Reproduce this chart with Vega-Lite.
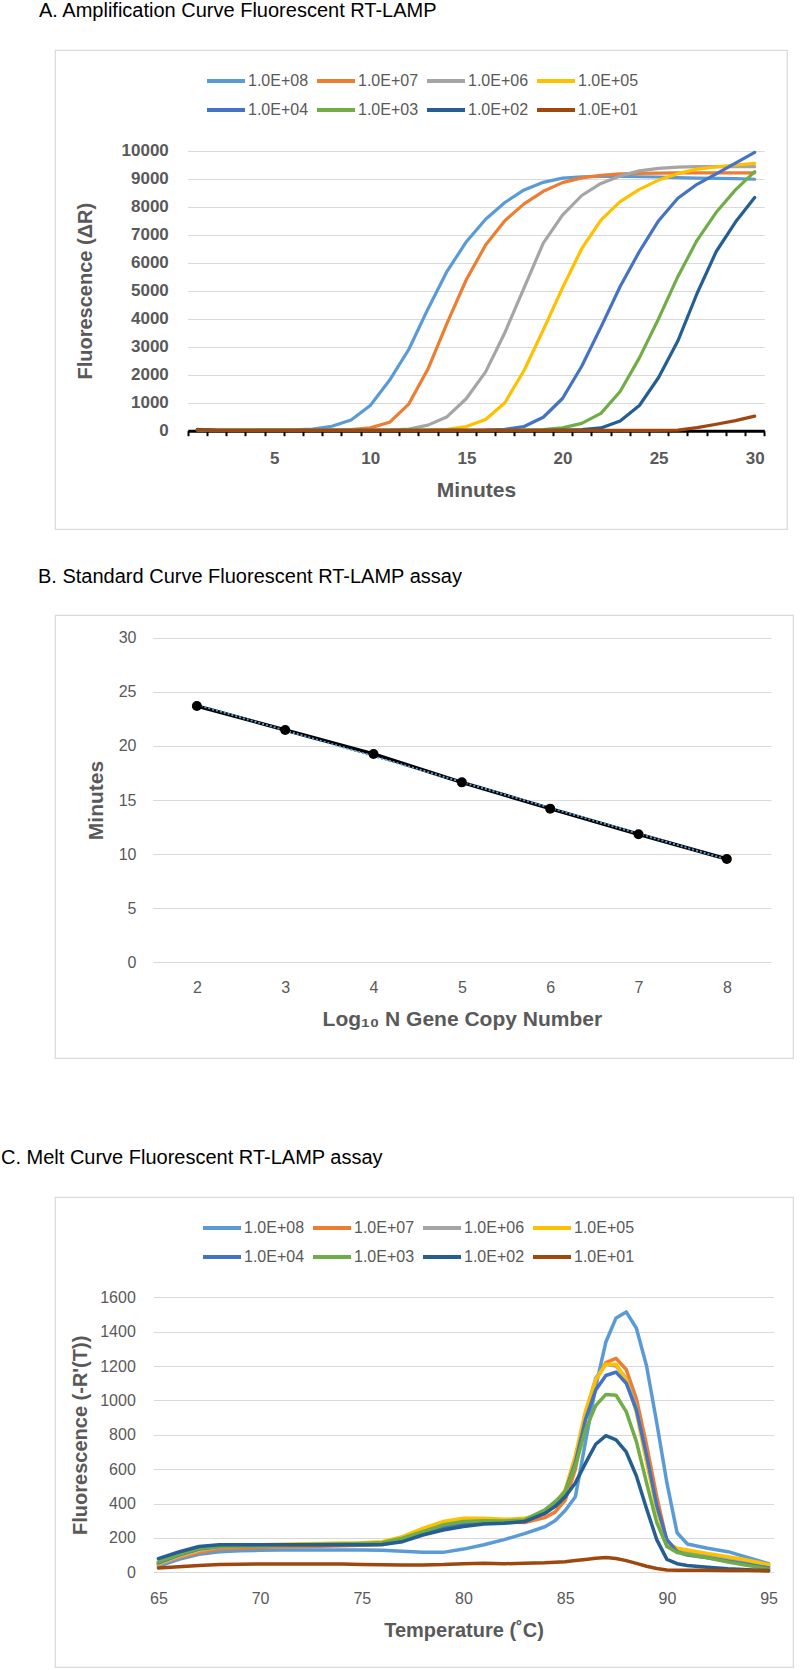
{
"$schema": "https://vega.github.io/schema/vega-lite/v6.json",
"background": "white",
"padding": 0,
"autosize": {"type": "pad"},
"datasets": {
"amp": [
{"x":1,"s":"1.0E+08","y":50},{"x":2,"s":"1.0E+08","y":20},{"x":3,"s":"1.0E+08","y":15},{"x":4,"s":"1.0E+08","y":15},{"x":5,"s":"1.0E+08","y":20},{"x":6,"s":"1.0E+08","y":30},{"x":7,"s":"1.0E+08","y":60},{"x":8,"s":"1.0E+08","y":160},{"x":9,"s":"1.0E+08","y":380},{"x":10,"s":"1.0E+08","y":900},{"x":11,"s":"1.0E+08","y":1800},{"x":12,"s":"1.0E+08","y":2900},{"x":13,"s":"1.0E+08","y":4350},{"x":14,"s":"1.0E+08","y":5700},{"x":15,"s":"1.0E+08","y":6750},{"x":16,"s":"1.0E+08","y":7550},{"x":17,"s":"1.0E+08","y":8150},{"x":18,"s":"1.0E+08","y":8600},{"x":19,"s":"1.0E+08","y":8870},{"x":20,"s":"1.0E+08","y":9020},{"x":21,"s":"1.0E+08","y":9070},{"x":22,"s":"1.0E+08","y":9080},{"x":23,"s":"1.0E+08","y":9080},{"x":24,"s":"1.0E+08","y":9070},{"x":25,"s":"1.0E+08","y":9060},{"x":26,"s":"1.0E+08","y":9040},{"x":27,"s":"1.0E+08","y":9020},{"x":28,"s":"1.0E+08","y":9010},{"x":29,"s":"1.0E+08","y":9000},{"x":30,"s":"1.0E+08","y":8980},
{"x":1,"s":"1.0E+07","y":40},{"x":2,"s":"1.0E+07","y":15},{"x":3,"s":"1.0E+07","y":10},{"x":4,"s":"1.0E+07","y":10},{"x":5,"s":"1.0E+07","y":10},{"x":6,"s":"1.0E+07","y":10},{"x":7,"s":"1.0E+07","y":15},{"x":8,"s":"1.0E+07","y":20},{"x":9,"s":"1.0E+07","y":40},{"x":10,"s":"1.0E+07","y":100},{"x":11,"s":"1.0E+07","y":300},{"x":12,"s":"1.0E+07","y":950},{"x":13,"s":"1.0E+07","y":2200},{"x":14,"s":"1.0E+07","y":3850},{"x":15,"s":"1.0E+07","y":5400},{"x":16,"s":"1.0E+07","y":6630},{"x":17,"s":"1.0E+07","y":7500},{"x":18,"s":"1.0E+07","y":8100},{"x":19,"s":"1.0E+07","y":8550},{"x":20,"s":"1.0E+07","y":8860},{"x":21,"s":"1.0E+07","y":9030},{"x":22,"s":"1.0E+07","y":9120},{"x":23,"s":"1.0E+07","y":9170},{"x":24,"s":"1.0E+07","y":9190},{"x":25,"s":"1.0E+07","y":9200},{"x":26,"s":"1.0E+07","y":9210},{"x":27,"s":"1.0E+07","y":9210},{"x":28,"s":"1.0E+07","y":9210},{"x":29,"s":"1.0E+07","y":9210},{"x":30,"s":"1.0E+07","y":9210},
{"x":1,"s":"1.0E+06","y":40},{"x":2,"s":"1.0E+06","y":15},{"x":3,"s":"1.0E+06","y":10},{"x":4,"s":"1.0E+06","y":10},{"x":5,"s":"1.0E+06","y":10},{"x":6,"s":"1.0E+06","y":10},{"x":7,"s":"1.0E+06","y":10},{"x":8,"s":"1.0E+06","y":10},{"x":9,"s":"1.0E+06","y":10},{"x":10,"s":"1.0E+06","y":15},{"x":11,"s":"1.0E+06","y":20},{"x":12,"s":"1.0E+06","y":60},{"x":13,"s":"1.0E+06","y":200},{"x":14,"s":"1.0E+06","y":500},{"x":15,"s":"1.0E+06","y":1150},{"x":16,"s":"1.0E+06","y":2100},{"x":17,"s":"1.0E+06","y":3500},{"x":18,"s":"1.0E+06","y":5100},{"x":19,"s":"1.0E+06","y":6700},{"x":20,"s":"1.0E+06","y":7700},{"x":21,"s":"1.0E+06","y":8400},{"x":22,"s":"1.0E+06","y":8830},{"x":23,"s":"1.0E+06","y":9100},{"x":24,"s":"1.0E+06","y":9280},{"x":25,"s":"1.0E+06","y":9370},{"x":26,"s":"1.0E+06","y":9410},{"x":27,"s":"1.0E+06","y":9430},{"x":28,"s":"1.0E+06","y":9430},{"x":29,"s":"1.0E+06","y":9430},{"x":30,"s":"1.0E+06","y":9430},
{"x":1,"s":"1.0E+05","y":40},{"x":2,"s":"1.0E+05","y":15},{"x":3,"s":"1.0E+05","y":10},{"x":4,"s":"1.0E+05","y":10},{"x":5,"s":"1.0E+05","y":10},{"x":6,"s":"1.0E+05","y":10},{"x":7,"s":"1.0E+05","y":10},{"x":8,"s":"1.0E+05","y":10},{"x":9,"s":"1.0E+05","y":10},{"x":10,"s":"1.0E+05","y":10},{"x":11,"s":"1.0E+05","y":10},{"x":12,"s":"1.0E+05","y":10},{"x":13,"s":"1.0E+05","y":20},{"x":14,"s":"1.0E+05","y":50},{"x":15,"s":"1.0E+05","y":150},{"x":16,"s":"1.0E+05","y":400},{"x":17,"s":"1.0E+05","y":1000},{"x":18,"s":"1.0E+05","y":2150},{"x":19,"s":"1.0E+05","y":3600},{"x":20,"s":"1.0E+05","y":5100},{"x":21,"s":"1.0E+05","y":6500},{"x":22,"s":"1.0E+05","y":7520},{"x":23,"s":"1.0E+05","y":8180},{"x":24,"s":"1.0E+05","y":8620},{"x":25,"s":"1.0E+05","y":8950},{"x":26,"s":"1.0E+05","y":9180},{"x":27,"s":"1.0E+05","y":9340},{"x":28,"s":"1.0E+05","y":9420},{"x":29,"s":"1.0E+05","y":9490},{"x":30,"s":"1.0E+05","y":9550},
{"x":1,"s":"1.0E+04","y":40},{"x":2,"s":"1.0E+04","y":15},{"x":3,"s":"1.0E+04","y":10},{"x":4,"s":"1.0E+04","y":10},{"x":5,"s":"1.0E+04","y":10},{"x":6,"s":"1.0E+04","y":10},{"x":7,"s":"1.0E+04","y":10},{"x":8,"s":"1.0E+04","y":10},{"x":9,"s":"1.0E+04","y":10},{"x":10,"s":"1.0E+04","y":10},{"x":11,"s":"1.0E+04","y":10},{"x":12,"s":"1.0E+04","y":10},{"x":13,"s":"1.0E+04","y":10},{"x":14,"s":"1.0E+04","y":10},{"x":15,"s":"1.0E+04","y":10},{"x":16,"s":"1.0E+04","y":20},{"x":17,"s":"1.0E+04","y":50},{"x":18,"s":"1.0E+04","y":150},{"x":19,"s":"1.0E+04","y":480},{"x":20,"s":"1.0E+04","y":1150},{"x":21,"s":"1.0E+04","y":2300},{"x":22,"s":"1.0E+04","y":3700},{"x":23,"s":"1.0E+04","y":5150},{"x":24,"s":"1.0E+04","y":6400},{"x":25,"s":"1.0E+04","y":7500},{"x":26,"s":"1.0E+04","y":8300},{"x":27,"s":"1.0E+04","y":8800},{"x":28,"s":"1.0E+04","y":9170},{"x":29,"s":"1.0E+04","y":9560},{"x":30,"s":"1.0E+04","y":9940},
{"x":1,"s":"1.0E+03","y":40},{"x":2,"s":"1.0E+03","y":15},{"x":3,"s":"1.0E+03","y":10},{"x":4,"s":"1.0E+03","y":10},{"x":5,"s":"1.0E+03","y":10},{"x":6,"s":"1.0E+03","y":10},{"x":7,"s":"1.0E+03","y":10},{"x":8,"s":"1.0E+03","y":10},{"x":9,"s":"1.0E+03","y":10},{"x":10,"s":"1.0E+03","y":10},{"x":11,"s":"1.0E+03","y":10},{"x":12,"s":"1.0E+03","y":10},{"x":13,"s":"1.0E+03","y":10},{"x":14,"s":"1.0E+03","y":10},{"x":15,"s":"1.0E+03","y":10},{"x":16,"s":"1.0E+03","y":10},{"x":17,"s":"1.0E+03","y":10},{"x":18,"s":"1.0E+03","y":20},{"x":19,"s":"1.0E+03","y":40},{"x":20,"s":"1.0E+03","y":100},{"x":21,"s":"1.0E+03","y":260},{"x":22,"s":"1.0E+03","y":620},{"x":23,"s":"1.0E+03","y":1400},{"x":24,"s":"1.0E+03","y":2600},{"x":25,"s":"1.0E+03","y":4000},{"x":26,"s":"1.0E+03","y":5500},{"x":27,"s":"1.0E+03","y":6800},{"x":28,"s":"1.0E+03","y":7800},{"x":29,"s":"1.0E+03","y":8600},{"x":30,"s":"1.0E+03","y":9250},
{"x":1,"s":"1.0E+02","y":40},{"x":2,"s":"1.0E+02","y":15},{"x":3,"s":"1.0E+02","y":10},{"x":4,"s":"1.0E+02","y":10},{"x":5,"s":"1.0E+02","y":10},{"x":6,"s":"1.0E+02","y":10},{"x":7,"s":"1.0E+02","y":10},{"x":8,"s":"1.0E+02","y":10},{"x":9,"s":"1.0E+02","y":10},{"x":10,"s":"1.0E+02","y":10},{"x":11,"s":"1.0E+02","y":10},{"x":12,"s":"1.0E+02","y":10},{"x":13,"s":"1.0E+02","y":10},{"x":14,"s":"1.0E+02","y":10},{"x":15,"s":"1.0E+02","y":10},{"x":16,"s":"1.0E+02","y":10},{"x":17,"s":"1.0E+02","y":10},{"x":18,"s":"1.0E+02","y":10},{"x":19,"s":"1.0E+02","y":10},{"x":20,"s":"1.0E+02","y":20},{"x":21,"s":"1.0E+02","y":40},{"x":22,"s":"1.0E+02","y":100},{"x":23,"s":"1.0E+02","y":350},{"x":24,"s":"1.0E+02","y":900},{"x":25,"s":"1.0E+02","y":1900},{"x":26,"s":"1.0E+02","y":3200},{"x":27,"s":"1.0E+02","y":4900},{"x":28,"s":"1.0E+02","y":6400},{"x":29,"s":"1.0E+02","y":7450},{"x":30,"s":"1.0E+02","y":8330},
{"x":1,"s":"1.0E+01","y":40},{"x":2,"s":"1.0E+01","y":15},{"x":3,"s":"1.0E+01","y":10},{"x":4,"s":"1.0E+01","y":10},{"x":5,"s":"1.0E+01","y":10},{"x":6,"s":"1.0E+01","y":10},{"x":7,"s":"1.0E+01","y":10},{"x":8,"s":"1.0E+01","y":10},{"x":9,"s":"1.0E+01","y":10},{"x":10,"s":"1.0E+01","y":10},{"x":11,"s":"1.0E+01","y":10},{"x":12,"s":"1.0E+01","y":10},{"x":13,"s":"1.0E+01","y":10},{"x":14,"s":"1.0E+01","y":10},{"x":15,"s":"1.0E+01","y":10},{"x":16,"s":"1.0E+01","y":10},{"x":17,"s":"1.0E+01","y":10},{"x":18,"s":"1.0E+01","y":10},{"x":19,"s":"1.0E+01","y":10},{"x":20,"s":"1.0E+01","y":10},{"x":21,"s":"1.0E+01","y":10},{"x":22,"s":"1.0E+01","y":10},{"x":23,"s":"1.0E+01","y":10},{"x":24,"s":"1.0E+01","y":10},{"x":25,"s":"1.0E+01","y":10},{"x":26,"s":"1.0E+01","y":20},{"x":27,"s":"1.0E+01","y":110},{"x":28,"s":"1.0E+01","y":230},{"x":29,"s":"1.0E+01","y":360},{"x":30,"s":"1.0E+01","y":520}
],
"std": [
{"n":2,"t":23.69},{"n":3,"t":21.47},{"n":4,"t":19.25},{"n":5,"t":16.63},{"n":6,"t":14.2},{"n":7,"t":11.83},{"n":8,"t":9.55}
],
"melt": [
{"x":65,"s":"1.0E+08","y":35},{"x":66,"s":"1.0E+08","y":75},{"x":67,"s":"1.0E+08","y":105},{"x":68,"s":"1.0E+08","y":120},{"x":69,"s":"1.0E+08","y":125},{"x":70,"s":"1.0E+08","y":128},{"x":71,"s":"1.0E+08","y":130},{"x":72,"s":"1.0E+08","y":130},{"x":73,"s":"1.0E+08","y":130},{"x":74,"s":"1.0E+08","y":130},{"x":75,"s":"1.0E+08","y":130},{"x":76,"s":"1.0E+08","y":128},{"x":77,"s":"1.0E+08","y":122},{"x":78,"s":"1.0E+08","y":116},{"x":79,"s":"1.0E+08","y":116},{"x":80,"s":"1.0E+08","y":135},{"x":81,"s":"1.0E+08","y":160},{"x":82,"s":"1.0E+08","y":190},{"x":83,"s":"1.0E+08","y":225},{"x":84,"s":"1.0E+08","y":265},{"x":84.5,"s":"1.0E+08","y":300},{"x":85,"s":"1.0E+08","y":360},{"x":85.5,"s":"1.0E+08","y":440},{"x":86,"s":"1.0E+08","y":760},{"x":86.5,"s":"1.0E+08","y":1080},{"x":87,"s":"1.0E+08","y":1340},{"x":87.5,"s":"1.0E+08","y":1480},{"x":88,"s":"1.0E+08","y":1515},{"x":88.5,"s":"1.0E+08","y":1420},{"x":89,"s":"1.0E+08","y":1200},{"x":89.5,"s":"1.0E+08","y":870},{"x":90,"s":"1.0E+08","y":520},{"x":90.5,"s":"1.0E+08","y":230},{"x":91,"s":"1.0E+08","y":165},{"x":92,"s":"1.0E+08","y":140},{"x":93,"s":"1.0E+08","y":120},{"x":94,"s":"1.0E+08","y":85},{"x":95,"s":"1.0E+08","y":50},
{"x":65,"s":"1.0E+07","y":45},{"x":66,"s":"1.0E+07","y":85},{"x":67,"s":"1.0E+07","y":115},{"x":68,"s":"1.0E+07","y":135},{"x":69,"s":"1.0E+07","y":140},{"x":70,"s":"1.0E+07","y":145},{"x":71,"s":"1.0E+07","y":148},{"x":72,"s":"1.0E+07","y":150},{"x":73,"s":"1.0E+07","y":152},{"x":74,"s":"1.0E+07","y":155},{"x":75,"s":"1.0E+07","y":158},{"x":76,"s":"1.0E+07","y":160},{"x":77,"s":"1.0E+07","y":185},{"x":78,"s":"1.0E+07","y":225},{"x":79,"s":"1.0E+07","y":262},{"x":80,"s":"1.0E+07","y":285},{"x":81,"s":"1.0E+07","y":292},{"x":82,"s":"1.0E+07","y":293},{"x":83,"s":"1.0E+07","y":290},{"x":84,"s":"1.0E+07","y":318},{"x":84.5,"s":"1.0E+07","y":350},{"x":85,"s":"1.0E+07","y":420},{"x":85.5,"s":"1.0E+07","y":600},{"x":86,"s":"1.0E+07","y":900},{"x":86.5,"s":"1.0E+07","y":1120},{"x":87,"s":"1.0E+07","y":1220},{"x":87.5,"s":"1.0E+07","y":1245},{"x":88,"s":"1.0E+07","y":1180},{"x":88.5,"s":"1.0E+07","y":1010},{"x":89,"s":"1.0E+07","y":740},{"x":89.5,"s":"1.0E+07","y":440},{"x":90,"s":"1.0E+07","y":180},{"x":90.5,"s":"1.0E+07","y":130},{"x":91,"s":"1.0E+07","y":115},{"x":92,"s":"1.0E+07","y":95},{"x":93,"s":"1.0E+07","y":75},{"x":94,"s":"1.0E+07","y":55},{"x":95,"s":"1.0E+07","y":35},
{"x":65,"s":"1.0E+06","y":45},{"x":66,"s":"1.0E+06","y":90},{"x":67,"s":"1.0E+06","y":125},{"x":68,"s":"1.0E+06","y":145},{"x":69,"s":"1.0E+06","y":150},{"x":70,"s":"1.0E+06","y":155},{"x":71,"s":"1.0E+06","y":158},{"x":72,"s":"1.0E+06","y":160},{"x":73,"s":"1.0E+06","y":163},{"x":74,"s":"1.0E+06","y":165},{"x":75,"s":"1.0E+06","y":168},{"x":76,"s":"1.0E+06","y":172},{"x":77,"s":"1.0E+06","y":195},{"x":78,"s":"1.0E+06","y":240},{"x":79,"s":"1.0E+06","y":280},{"x":80,"s":"1.0E+06","y":300},{"x":81,"s":"1.0E+06","y":305},{"x":82,"s":"1.0E+06","y":305},{"x":83,"s":"1.0E+06","y":305},{"x":84,"s":"1.0E+06","y":340},{"x":84.5,"s":"1.0E+06","y":390},{"x":85,"s":"1.0E+06","y":460},{"x":85.5,"s":"1.0E+06","y":640},{"x":86,"s":"1.0E+06","y":920},{"x":86.5,"s":"1.0E+06","y":1130},{"x":87,"s":"1.0E+06","y":1210},{"x":87.5,"s":"1.0E+06","y":1200},{"x":88,"s":"1.0E+06","y":1130},{"x":88.5,"s":"1.0E+06","y":960},{"x":89,"s":"1.0E+06","y":660},{"x":89.5,"s":"1.0E+06","y":380},{"x":90,"s":"1.0E+06","y":170},{"x":90.5,"s":"1.0E+06","y":130},{"x":91,"s":"1.0E+06","y":115},{"x":92,"s":"1.0E+06","y":100},{"x":93,"s":"1.0E+06","y":80},{"x":94,"s":"1.0E+06","y":60},{"x":95,"s":"1.0E+06","y":40},
{"x":65,"s":"1.0E+05","y":50},{"x":66,"s":"1.0E+05","y":95},{"x":67,"s":"1.0E+05","y":130},{"x":68,"s":"1.0E+05","y":150},{"x":69,"s":"1.0E+05","y":155},{"x":70,"s":"1.0E+05","y":160},{"x":71,"s":"1.0E+05","y":163},{"x":72,"s":"1.0E+05","y":166},{"x":73,"s":"1.0E+05","y":168},{"x":74,"s":"1.0E+05","y":170},{"x":75,"s":"1.0E+05","y":172},{"x":76,"s":"1.0E+05","y":178},{"x":77,"s":"1.0E+05","y":207},{"x":78,"s":"1.0E+05","y":256},{"x":79,"s":"1.0E+05","y":295},{"x":80,"s":"1.0E+05","y":314},{"x":81,"s":"1.0E+05","y":314},{"x":82,"s":"1.0E+05","y":308},{"x":83,"s":"1.0E+05","y":314},{"x":84,"s":"1.0E+05","y":345},{"x":84.5,"s":"1.0E+05","y":400},{"x":85,"s":"1.0E+05","y":480},{"x":85.5,"s":"1.0E+05","y":680},{"x":86,"s":"1.0E+05","y":940},{"x":86.5,"s":"1.0E+05","y":1120},{"x":87,"s":"1.0E+05","y":1210},{"x":87.5,"s":"1.0E+05","y":1210},{"x":88,"s":"1.0E+05","y":1120},{"x":88.5,"s":"1.0E+05","y":930},{"x":89,"s":"1.0E+05","y":640},{"x":89.5,"s":"1.0E+05","y":370},{"x":90,"s":"1.0E+05","y":175},{"x":90.5,"s":"1.0E+05","y":140},{"x":91,"s":"1.0E+05","y":130},{"x":92,"s":"1.0E+05","y":110},{"x":93,"s":"1.0E+05","y":90},{"x":94,"s":"1.0E+05","y":70},{"x":95,"s":"1.0E+05","y":45},
{"x":65,"s":"1.0E+04","y":55},{"x":66,"s":"1.0E+04","y":100},{"x":67,"s":"1.0E+04","y":135},{"x":68,"s":"1.0E+04","y":150},{"x":69,"s":"1.0E+04","y":155},{"x":70,"s":"1.0E+04","y":157},{"x":71,"s":"1.0E+04","y":158},{"x":72,"s":"1.0E+04","y":160},{"x":73,"s":"1.0E+04","y":160},{"x":74,"s":"1.0E+04","y":162},{"x":75,"s":"1.0E+04","y":163},{"x":76,"s":"1.0E+04","y":165},{"x":77,"s":"1.0E+04","y":185},{"x":78,"s":"1.0E+04","y":225},{"x":79,"s":"1.0E+04","y":260},{"x":80,"s":"1.0E+04","y":280},{"x":81,"s":"1.0E+04","y":290},{"x":82,"s":"1.0E+04","y":292},{"x":83,"s":"1.0E+04","y":295},{"x":84,"s":"1.0E+04","y":345},{"x":84.5,"s":"1.0E+04","y":395},{"x":85,"s":"1.0E+04","y":470},{"x":85.5,"s":"1.0E+04","y":640},{"x":86,"s":"1.0E+04","y":890},{"x":86.5,"s":"1.0E+04","y":1060},{"x":87,"s":"1.0E+04","y":1145},{"x":87.5,"s":"1.0E+04","y":1165},{"x":88,"s":"1.0E+04","y":1100},{"x":88.5,"s":"1.0E+04","y":945},{"x":89,"s":"1.0E+04","y":680},{"x":89.5,"s":"1.0E+04","y":390},{"x":90,"s":"1.0E+04","y":190},{"x":90.5,"s":"1.0E+04","y":120},{"x":91,"s":"1.0E+04","y":100},{"x":92,"s":"1.0E+04","y":85},{"x":93,"s":"1.0E+04","y":65},{"x":94,"s":"1.0E+04","y":45},{"x":95,"s":"1.0E+04","y":25},
{"x":65,"s":"1.0E+03","y":60},{"x":66,"s":"1.0E+03","y":105},{"x":67,"s":"1.0E+03","y":140},{"x":68,"s":"1.0E+03","y":150},{"x":69,"s":"1.0E+03","y":152},{"x":70,"s":"1.0E+03","y":155},{"x":71,"s":"1.0E+03","y":158},{"x":72,"s":"1.0E+03","y":160},{"x":73,"s":"1.0E+03","y":163},{"x":74,"s":"1.0E+03","y":165},{"x":75,"s":"1.0E+03","y":168},{"x":76,"s":"1.0E+03","y":172},{"x":77,"s":"1.0E+03","y":198},{"x":78,"s":"1.0E+03","y":237},{"x":79,"s":"1.0E+03","y":275},{"x":80,"s":"1.0E+03","y":295},{"x":81,"s":"1.0E+03","y":300},{"x":82,"s":"1.0E+03","y":298},{"x":83,"s":"1.0E+03","y":305},{"x":84,"s":"1.0E+03","y":363},{"x":84.5,"s":"1.0E+03","y":411},{"x":85,"s":"1.0E+03","y":469},{"x":85.5,"s":"1.0E+03","y":620},{"x":86,"s":"1.0E+03","y":830},{"x":86.5,"s":"1.0E+03","y":970},{"x":87,"s":"1.0E+03","y":1035},{"x":87.5,"s":"1.0E+03","y":1030},{"x":88,"s":"1.0E+03","y":935},{"x":88.5,"s":"1.0E+03","y":760},{"x":89,"s":"1.0E+03","y":520},{"x":89.5,"s":"1.0E+03","y":290},{"x":90,"s":"1.0E+03","y":150},{"x":90.5,"s":"1.0E+03","y":115},{"x":91,"s":"1.0E+03","y":105},{"x":92,"s":"1.0E+03","y":85},{"x":93,"s":"1.0E+03","y":60},{"x":94,"s":"1.0E+03","y":40},{"x":95,"s":"1.0E+03","y":20},
{"x":65,"s":"1.0E+02","y":80},{"x":66,"s":"1.0E+02","y":118},{"x":67,"s":"1.0E+02","y":150},{"x":68,"s":"1.0E+02","y":160},{"x":69,"s":"1.0E+02","y":160},{"x":70,"s":"1.0E+02","y":160},{"x":71,"s":"1.0E+02","y":160},{"x":72,"s":"1.0E+02","y":160},{"x":73,"s":"1.0E+02","y":160},{"x":74,"s":"1.0E+02","y":160},{"x":75,"s":"1.0E+02","y":160},{"x":76,"s":"1.0E+02","y":162},{"x":77,"s":"1.0E+02","y":178},{"x":78,"s":"1.0E+02","y":217},{"x":79,"s":"1.0E+02","y":246},{"x":80,"s":"1.0E+02","y":266},{"x":81,"s":"1.0E+02","y":281},{"x":82,"s":"1.0E+02","y":285},{"x":83,"s":"1.0E+02","y":295},{"x":84,"s":"1.0E+02","y":343},{"x":84.5,"s":"1.0E+02","y":382},{"x":85,"s":"1.0E+02","y":440},{"x":85.5,"s":"1.0E+02","y":520},{"x":86,"s":"1.0E+02","y":635},{"x":86.5,"s":"1.0E+02","y":745},{"x":87,"s":"1.0E+02","y":795},{"x":87.5,"s":"1.0E+02","y":770},{"x":88,"s":"1.0E+02","y":700},{"x":88.5,"s":"1.0E+02","y":560},{"x":89,"s":"1.0E+02","y":370},{"x":89.5,"s":"1.0E+02","y":190},{"x":90,"s":"1.0E+02","y":75},{"x":90.5,"s":"1.0E+02","y":50},{"x":91,"s":"1.0E+02","y":40},{"x":92,"s":"1.0E+02","y":30},{"x":93,"s":"1.0E+02","y":20},{"x":94,"s":"1.0E+02","y":15},{"x":95,"s":"1.0E+02","y":10},
{"x":65,"s":"1.0E+01","y":25},{"x":66,"s":"1.0E+01","y":32},{"x":67,"s":"1.0E+01","y":40},{"x":68,"s":"1.0E+01","y":46},{"x":69,"s":"1.0E+01","y":47},{"x":70,"s":"1.0E+01","y":48},{"x":71,"s":"1.0E+01","y":48},{"x":72,"s":"1.0E+01","y":48},{"x":73,"s":"1.0E+01","y":48},{"x":74,"s":"1.0E+01","y":48},{"x":75,"s":"1.0E+01","y":46},{"x":76,"s":"1.0E+01","y":44},{"x":77,"s":"1.0E+01","y":42},{"x":78,"s":"1.0E+01","y":43},{"x":79,"s":"1.0E+01","y":45},{"x":80,"s":"1.0E+01","y":50},{"x":81,"s":"1.0E+01","y":52},{"x":82,"s":"1.0E+01","y":50},{"x":83,"s":"1.0E+01","y":52},{"x":84,"s":"1.0E+01","y":55},{"x":84.5,"s":"1.0E+01","y":58},{"x":85,"s":"1.0E+01","y":62},{"x":85.5,"s":"1.0E+01","y":68},{"x":86,"s":"1.0E+01","y":75},{"x":86.5,"s":"1.0E+01","y":82},{"x":87,"s":"1.0E+01","y":86},{"x":87.5,"s":"1.0E+01","y":80},{"x":88,"s":"1.0E+01","y":68},{"x":88.5,"s":"1.0E+01","y":52},{"x":89,"s":"1.0E+01","y":35},{"x":89.5,"s":"1.0E+01","y":22},{"x":90,"s":"1.0E+01","y":14},{"x":90.5,"s":"1.0E+01","y":12},{"x":91,"s":"1.0E+01","y":12},{"x":92,"s":"1.0E+01","y":12},{"x":93,"s":"1.0E+01","y":11},{"x":94,"s":"1.0E+01","y":10},{"x":95,"s":"1.0E+01","y":8}
]
},
"spacing": 88,
"bounds": "full",
"resolve": {"scale": {"color": "independent"}, "legend": {"color": "independent"}},
"vconcat": [
{
"spacing": 36,
"bounds": "full",
"vconcat": [
{
"width": 732, "height": 479,
"title": {"text": "A. Amplification Curve Fluorescent RT-LAMP", "dx": -16, "offset": 28.8},
"data": {"name": "amp"},
"mark": {"type": "line", "strokeWidth": 3.2, "strokeCap": "round", "strokeJoin": "round"},
"encoding": {
"x": {"field": "x", "type": "quantitative",
"scale": {"domain": [0.5, 30.5], "range": [132.7, 709.3], "nice": false, "zero": false},
"axis": {"values": [0.5,1.5,2.5,3.5,4.5,5.5,6.5,7.5,8.5,9.5,10.5,11.5,12.5,13.5,14.5,15.5,16.5,17.5,18.5,19.5,20.5,21.5,22.5,23.5,24.5,25.5,26.5,27.5,28.5,29.5,30.5],
"labelExpr": "(datum.value + 0.5) % 5 == 0 ? format(datum.value + 0.5, 'd') : ''",
"labelOffset": 9.61, "labelFlush": false, "labelOverlap": false, "labelFontSize": 17, "labelFontWeight": "bold", "labelPadding": 14.7,
"ticks": true, "tickSize": 5, "tickWidth": 2, "tickColor": "#000000",
"domain": true, "domainColor": "#000000", "domainWidth": 3, "grid": false, "offset": -98.3,
"title": "Minutes", "titleFontSize": 21, "titleFontWeight": "bold", "titleY": 60, "titleBaseline": "middle"}},
"y": {"field": "y", "type": "quantitative",
"scale": {"domain": [0, 10000], "range": [380.7, 100.7], "nice": false},
"axis": {"values": [0,1000,2000,3000,4000,5000,6000,7000,8000,9000,10000], "format": "d", "offset": -132.7, "labelPadding": 19.4, "labelFontSize": 17, "labelFontWeight": "bold", "grid": true,
"title": "Fluorescence (ΔR)", "titleFontSize": 20, "titleFontWeight": "bold", "titleX": -102.7, "titleBaseline": "middle"}},
"color": {"field": "s", "type": "nominal",
"scale": {"domain": ["1.0E+08","1.0E+07","1.0E+06","1.0E+05","1.0E+04","1.0E+03","1.0E+02","1.0E+01"], "range": ["#5B9BD5","#ED7D31","#A5A5A5","#FFC000","#4472C4","#70AD47","#255E91","#9E480E"]},
"legend": {"title": null, "legendX": 150, "legendY": 10}}
}
},
{
"width": 738, "height": 443,
"title": {"text": "B.   Standard Curve Fluorescent RT-LAMP assay", "dx": -17, "offset": 27.8},
"data": {"name": "std"},
"encoding": {
"x": {"field": "n", "type": "quantitative",
"scale": {"domain": [1.5, 8.5], "range": [97.7, 716], "nice": false, "zero": false},
"axis": {"values": [2,3,4,5,6,7,8], "offset": -95.7, "labelPadding": 16.7, "labelFontSize": 16, "labelFlush": false, "grid": false,
"title": "Log₁₀ N Gene Copy Number", "titleFontSize": 21, "titleFontWeight": "bold", "titleY": 56.7, "titleBaseline": "middle"}},
"y": {"field": "t", "type": "quantitative",
"scale": {"domain": [0, 30], "range": [347.3, 22.7], "nice": false},
"axis": {"values": [0,5,10,15,20,25,30], "offset": -97.7, "labelPadding": 16.7, "labelFontSize": 16, "grid": true,
"title": "Minutes", "titleFontSize": 21, "titleFontWeight": "bold", "titleX": -56.7, "titleBaseline": "middle"}}
},
"layer": [
{"mark": {"type": "line", "color": "#000000", "strokeWidth": 3.5}},
{"transform": [{"regression": "t", "on": "n"}], "mark": {"type": "line", "color": "#5B9BD5", "strokeWidth": 2, "strokeDash": [2, 2]}},
{"mark": {"type": "point", "filled": true, "color": "#000000", "size": 100, "opacity": 1}},
{"data": {"values": [{}]},
"mark": {"type": "text", "text": ["y = -2.3863x + 26.215", "R² = 0.9995"], "fontSize": 18, "color": "#595959", "lineHeight": 25.3, "align": "center", "baseline": "middle"},
"encoding": {"x": {"datum": 4.763}, "y": {"datum": 7.2}}}
]
}
]
},
{
"width": 738, "height": 470,
"title": {"text": "C.   Melt Curve Fluorescent RT-LAMP assay", "dx": -54, "offset": 28.8},
"data": {"name": "melt"},
"mark": {"type": "line", "strokeWidth": 3.5, "strokeCap": "round", "strokeJoin": "round"},
"encoding": {
"x": {"field": "x", "type": "quantitative",
"scale": {"domain": [64.75, 95.25], "range": [98.3, 718.7], "nice": false, "zero": false},
"axis": {"values": [65,70,75,80,85,90,95], "offset": -94.7, "labelPadding": 17.8, "labelFontSize": 16, "labelFlush": false, "grid": false,
"title": "Temperature (˚C)", "titleFontSize": 20, "titleFontWeight": "bold", "titleY": 57.7, "titleBaseline": "middle"}},
"y": {"field": "y", "type": "quantitative",
"scale": {"domain": [0, 1600], "range": [375.3, 100.3], "nice": false},
"axis": {"values": [0,200,400,600,800,1000,1200,1400,1600], "format": "d", "offset": -98.3, "labelPadding": 18, "labelFontSize": 16, "grid": true,
"title": "Fluorescence (-R'(T))", "titleFontSize": 20, "titleFontWeight": "bold", "titleX": -73, "titleBaseline": "middle"}},
"color": {"field": "s", "type": "nominal",
"scale": {"domain": ["1.0E+08","1.0E+07","1.0E+06","1.0E+05","1.0E+04","1.0E+03","1.0E+02","1.0E+01"], "range": ["#5B9BD5","#ED7D31","#A5A5A5","#FFC000","#4472C4","#70AD47","#255E91","#9E480E"]},
"legend": {"title": null, "legendX": 146, "legendY": 10}}
}
}
],
"config": {
"font": "Liberation Sans",
"view": {"stroke": "#d9d9d9", "strokeWidth": 1.2},
"title": {"font": "Liberation Sans", "fontSize": 20, "fontWeight": "normal", "color": "#000000", "anchor": "start", "frame": "group"},
"axis": {"labelColor": "#595959", "titleColor": "#595959", "labelFont": "Liberation Sans", "titleFont": "Liberation Sans", "domain": false, "ticks": false, "gridColor": "#d9d9d9", "gridWidth": 1.2},
"legend": {"orient": "none", "direction": "horizontal", "columns": 4, "symbolType": "stroke", "symbolSize": 1444, "symbolStrokeWidth": 4, "labelFont": "Liberation Sans", "labelFontSize": 16, "labelColor": "#595959", "labelOffset": 1, "columnPadding": 0, "rowPadding": -3, "padding": 0}
}
}
